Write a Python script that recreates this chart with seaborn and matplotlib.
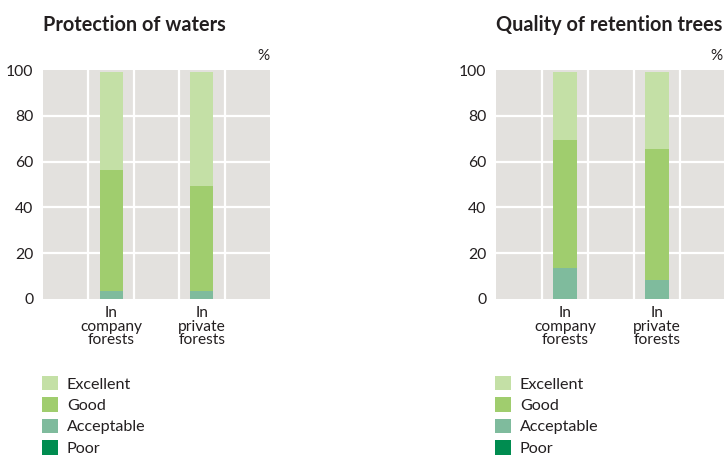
import matplotlib
matplotlib.use("Agg")
import matplotlib.pyplot as plt
import matplotlib.patches as mpatches
import seaborn as sns
import pandas as pd
import numpy as np

sns.set_theme(style="white")
plt.rcParams['font.family'] = ['Lato', 'DejaVu Sans']

# ---- data ----
categories = ["In\ncompany\nforests", "In\nprivate\nforests"]
levels = ["Excellent", "Good", "Acceptable", "Poor"]
waters_poor = [0.0, 0.0]
waters_acceptable = [3.5, 3.5]
waters_good = [52.8, 45.8]
waters_excellent = [42.8, 49.7]
trees_poor = [0.0, 0.0]
trees_acceptable = [13.7, 8.3]
trees_good = [55.7, 57.2]
trees_excellent = [29.6, 33.5]
titles = ["Protection of waters", "Quality of retention trees"]
yticks = [0, 20, 40, 60, 80, 100]

colors = {"Excellent": "#c4e0a6", "Good": "#a0cd6e",
          "Acceptable": "#7fbb9d", "Poor": "#008c50"}
bg = "#e3e1de"
txt = "#231f20"

panels = [
    {"Poor": waters_poor, "Acceptable": waters_acceptable,
     "Good": waters_good, "Excellent": waters_excellent},
    {"Poor": trees_poor, "Acceptable": trees_acceptable,
     "Good": trees_good, "Excellent": trees_excellent},
]

W, H = 724, 455
fig = plt.figure(figsize=(W / 100, H / 100), dpi=100)

axes_px = [(43, 70, 227, 229), (496, 70, 230, 229)]
pct_x = [1.0, 0.983]

for i, (data, (x0, y0, w, h)) in enumerate(zip(panels, axes_px)):
    ax = fig.add_axes([x0 / W, 1 - (y0 + h) / H, w / W, h / H])
    ax.set_facecolor(bg)
    order = ["Poor", "Acceptable", "Good", "Excellent"]
    cum = np.zeros(len(categories))
    cums = {}
    for lv in order:
        cum = cum + np.array(data[lv])
        cums[lv] = cum.copy()
    for lv in reversed(order):
        df = pd.DataFrame({"cat": categories, "val": cums[lv]})
        sns.barplot(data=df, x="cat", y="val", color=colors[lv], ax=ax,
                    width=0.255, saturation=1, linewidth=0, zorder=3)
    ax.set_xlim(-0.75, 1.75)
    ax.set_ylim(0, 100)
    ax.set_yticks(yticks)
    ax.set_xlabel("")
    ax.set_ylabel("")
    for gx in [-0.25, 0.25, 0.75, 1.25]:
        ax.axvline(gx, color="white", lw=1.6, zorder=1)
    for gy in [20, 40, 60, 80]:
        ax.axhline(gy, color="white", lw=1.6, zorder=1)
    for s in ax.spines.values():
        s.set_visible(False)
    ax.tick_params(axis="both", length=0, colors=txt, labelsize=11.3)
    ax.tick_params(axis="y", pad=7)
    ax.tick_params(axis="x", pad=5)
    for lab in ax.get_xticklabels():
        lab.set_linespacing(0.97)
        lab.set_fontsize(11.2)
    ax.text(x0 / W, 1 - 31 / H, titles[i], transform=fig.transFigure,
            fontsize=14.3, fontweight="bold", color=txt, ha="left", va="baseline")
    ax.text(pct_x[i], 1.03, "%", transform=ax.transAxes,
            ha="right", va="bottom", fontsize=11, color=txt)
    handles = [mpatches.Patch(facecolor=colors[lv], edgecolor="none", label=lv)
               for lv in levels]
    fig.legend(handles=handles, loc="upper left",
               bbox_to_anchor=((x0 - 1) / W, 1 - 376 / H), frameon=False,
               fontsize=11.6, handlelength=1.0, handleheight=1.0,
               handletextpad=0.55, labelspacing=0.35, borderpad=0,
               borderaxespad=0, labelcolor=txt)

fig.savefig("out.png", dpi=100)
